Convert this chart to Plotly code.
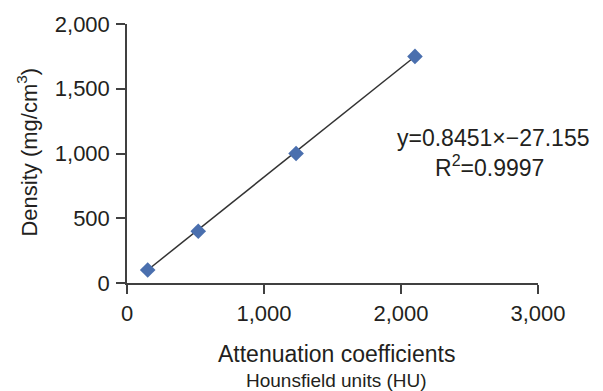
import plotly.graph_objects as go

# Data
hu_values = [151, 520, 1234, 2102]
density_values = [100, 400, 1000, 1750]
slope = 0.8451
intercept = -27.155
r_squared = 0.9997
x_ticks = [0, 1000, 2000, 3000]
y_ticks = [0, 500, 1000, 1500, 2000]

FONT = "Liberation Sans, Arial, sans-serif"
TEXT = "#231f20"
AXIS = "#404040"

x_line = [min(hu_values), max(hu_values)]
y_line = [slope * v + intercept for v in x_line]

fig = go.Figure()
fig.add_trace(go.Scatter(x=x_line, y=y_line, mode="lines",
                         line=dict(color="#333333", width=1.5),
                         hoverinfo="skip", showlegend=False))
fig.add_trace(go.Scatter(x=hu_values, y=density_values, mode="markers",
                         marker=dict(symbol="diamond", size=12, color="#4a6fae",
                                     line=dict(width=0)),
                         showlegend=False))

axis_common = dict(showline=True, linecolor=AXIS, linewidth=1.5,
                   ticks="outside", ticklen=9, tickwidth=1.5, tickcolor=AXIS,
                   showgrid=False, zeroline=False,
                   tickfont=dict(family=FONT, size=22, color=TEXT),
                   tickformat=",d")

fig.update_xaxes(range=[0, 3000], tickvals=x_ticks, ticklabelstandoff=1, **axis_common)
fig.update_yaxes(range=[0, 2000], tickvals=y_ticks, ticklabelstandoff=2, **axis_common)

PW = 603 - 127 - 65
PH = 391 - 19 - 108

def px_x(p):
    return (p - 127) / PW

def px_y(p):
    return (391 - 108 - p) / PH

fig.update_layout(
    width=603, height=391,
    margin=dict(l=127, r=65, t=19, b=108),
    plot_bgcolor="white", paper_bgcolor="white",
    font=dict(family=FONT, color=TEXT),
    annotations=[
        dict(text="Attenuation coefficients", xref="paper", yref="paper",
             x=px_x(336), y=px_y(355), xanchor="center", yanchor="middle",
             showarrow=False, font=dict(size=23, family=FONT, color=TEXT)),
        dict(text="Hounsfield units (HU)", xref="paper", yref="paper",
             x=px_x(336), y=px_y(382), xanchor="center", yanchor="middle",
             showarrow=False, font=dict(size=19, family=FONT, color=TEXT)),
        dict(text="Density (mg/cm<sup>3</sup>)", xref="paper", yref="paper",
             x=px_x(27), y=px_y(150), xanchor="center", yanchor="middle", textangle=-90,
             showarrow=False, font=dict(size=22, family=FONT, color=TEXT)),
        dict(text=f"y={slope}\u00d7\u2212{abs(intercept)}", xref="paper", yref="paper",
             x=px_x(493.5), y=px_y(135), xanchor="center", yanchor="middle",
             showarrow=False, font=dict(size=23, family=FONT, color=TEXT)),
        dict(text=f"R<sup>2</sup>={r_squared}", xref="paper", yref="paper",
             x=px_x(489), y=px_y(164), xanchor="center", yanchor="middle",
             showarrow=False, font=dict(size=23, family=FONT, color=TEXT)),
    ],
)

fig.write_html("out.html", config={"displayModeBar": False},
               post_script="document.body.style.margin='0';")
